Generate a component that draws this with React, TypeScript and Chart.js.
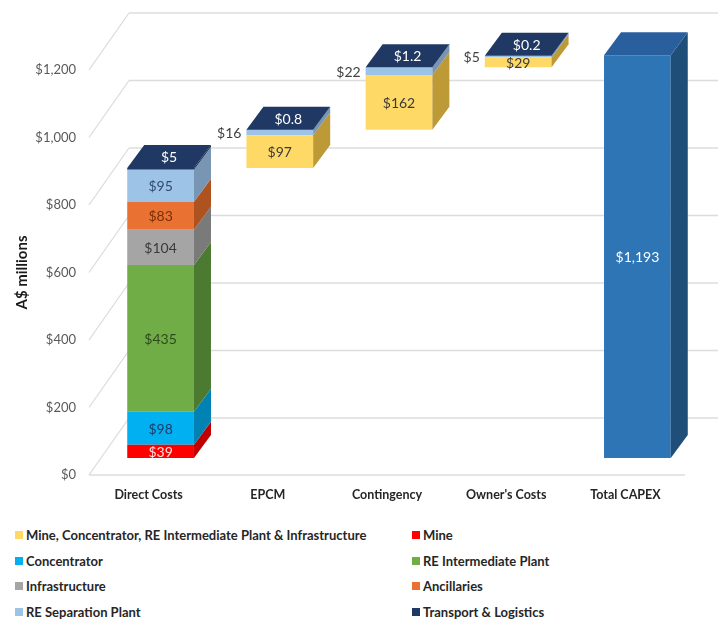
import React, { useEffect, useRef } from 'react';
import { Chart, registerables } from 'chart.js';

Chart.register(...registerables);

// ---------- data ----------
const categories = ['Direct Costs', 'EPCM', 'Contingency', "Owner's Costs", 'Total CAPEX'];
const mineConcReInfra = [0, 97, 162, 29, 0];
const mine = [39, 0, 0, 0, 0];
const concentrator = [98, 0, 0, 0, 0];
const reIntermediatePlant = [435, 0, 0, 0, 0];
const infrastructure = [104, 0, 0, 0, 0];
const ancillaries = [83, 0, 0, 0, 0];
const reSeparationPlant = [95, 16, 22, 5, 0];
const transportLogistics = [5, 0.8, 1.2, 0.2, 0];
const totalCapex = [0, 0, 0, 0, 1193];
const yMin = 0;
const yMax = 1200;
const yStep = 200;

// ---------- series meta ----------
const seriesNames = [
  'Mine, Concentrator, RE Intermediate Plant & Infrastructure',
  'Mine',
  'Concentrator',
  'RE Intermediate Plant',
  'Infrastructure',
  'Ancillaries',
  'RE Separation Plant',
  'Transport & Logistics',
];
const seriesValues = [
  mineConcReInfra,
  mine,
  concentrator,
  reIntermediatePlant,
  infrastructure,
  ancillaries,
  reSeparationPlant,
  transportLogistics,
];
const frontColors = ['#FFD966', '#FF0000', '#00B0F0', '#70AD47', '#A5A5A5', '#E97132', '#9DC3E6', '#203864'];
const sideColors = ['#BD9A36', '#C00000', '#0082B4', '#4C7A30', '#7A7A7A', '#AE531F', '#7896B3', '#17294A'];
const topColors = ['#F2CC55', '#E00000', '#009AD6', '#62983D', '#959595', '#D2652A', '#8DB2D6', '#203864'];
const labelColors = ['#3A3A3A', '#FFE4E4', '#1F3864', '#2D4A1B', '#3A3A3A', '#7A2E05', '#2F4A75', '#FFFFFF'];
const totalFront = '#2E75B6';
const totalSide = '#1F4E79';
const totalTop = '#285F9C';
// legend order: rows of two
const legendOrder = [0, 1, 2, 3, 4, 5, 6, 7];

// ---------- geometry of the pseudo 3D ----------
const BAR_DX = 12; // bar front plane offset from axis front plane
const BAR_DY = -17;
const DEPTH_DX = 17; // bar depth
const DEPTH_DY = -23;
const WALL_DX = 40; // back wall offset
const WALL_DY = -57;

const isTotalCol = (i: number) => totalCapex[i] > 0;

const waterfallBase: (number | null)[] = (() => {
  const res: (number | null)[] = [];
  let run = 0;
  for (let i = 0; i < categories.length; i++) {
    if (isTotalCol(i) || i === 0) res.push(null);
    else res.push(run);
    if (!isTotalCol(i)) {
      for (const s of seriesValues) run += s[i];
    }
  }
  return res;
})();

const nz = (arr: number[]) => arr.map((v) => (v ? v : null));

const fmt = (v: number) => '$' + v.toLocaleString('en-US');

function poly(ctx: CanvasRenderingContext2D, pts: number[][], color: string) {
  ctx.beginPath();
  ctx.moveTo(pts[0][0], pts[0][1]);
  for (let i = 1; i < pts.length; i++) ctx.lineTo(pts[i][0], pts[i][1]);
  ctx.closePath();
  ctx.fillStyle = color;
  ctx.fill();
}

const depthPlugin = {
  id: 'depth3d',
  beforeDatasetsDraw(chart: any) {
    const ctx: CanvasRenderingContext2D = chart.ctx;
    const { left, right, bottom } = chart.chartArea;
    const ys = chart.scales.y;
    ctx.save();
    ctx.strokeStyle = '#DCDCDC';
    ctx.lineWidth = 1.3;
    for (let v = yMin; v <= yMax; v += yStep) {
      const y = ys.getPixelForValue(v);
      // back wall line
      ctx.beginPath();
      ctx.moveTo(left + WALL_DX, y + WALL_DY);
      ctx.lineTo(chart.width, y + WALL_DY);
      ctx.stroke();
      // side wall diagonal
      ctx.beginPath();
      ctx.moveTo(left, y);
      ctx.lineTo(left + WALL_DX, y + WALL_DY);
      ctx.stroke();
    }
    // floor front edge
    ctx.beginPath();
    ctx.moveTo(left, bottom);
    ctx.lineTo(right, bottom);
    ctx.stroke();
    ctx.restore();
    ctx.save();
    ctx.translate(BAR_DX, BAR_DY);
  },
  afterDatasetsDraw(chart: any) {
    const ctx: CanvasRenderingContext2D = chart.ctx;
    const nSeries = seriesValues.length;
    // dataset index mapping: 0 = base, 1..nSeries = series, nSeries+1 = total
    const topInfo: any[] = [];
    for (let d = 1; d <= nSeries + 1; d++) {
      const meta = chart.getDatasetMeta(d);
      meta.data.forEach((el: any, i: number) => {
        const raw = chart.data.datasets[d].data[i];
        if (raw == null) return;
        const p = el.getProps(['x', 'y', 'base', 'width'], true);
        const xL = p.x - p.width / 2;
        const xR = p.x + p.width / 2;
        const yT = Math.min(p.y, p.base);
        const yB = Math.max(p.y, p.base);
        const side = d === nSeries + 1 ? totalSide : sideColors[d - 1];
        poly(ctx, [[xR, yT], [xR + DEPTH_DX, yT + DEPTH_DY], [xR + DEPTH_DX, yB + DEPTH_DY], [xR, yB]], side);
        topInfo[i] = { d, xL, xR, yT };
      });
    }
    topInfo.forEach((t) => {
      if (!t) return;
      const col = t.d === nSeries + 1 ? totalTop : topColors[t.d - 1];
      poly(ctx, [[t.xL, t.yT], [t.xL + DEPTH_DX, t.yT + DEPTH_DY], [t.xR + DEPTH_DX, t.yT + DEPTH_DY], [t.xR, t.yT]], col);
    });
    // labels
    ctx.font = '14px Lato';
    ctx.textBaseline = 'middle';
    for (let d = 1; d <= nSeries + 1; d++) {
      const meta = chart.getDatasetMeta(d);
      meta.data.forEach((el: any, i: number) => {
        const raw = chart.data.datasets[d].data[i];
        if (raw == null) return;
        const p = el.getProps(['x', 'y', 'base', 'width'], true);
        const xL = p.x - p.width / 2;
        const yT = Math.min(p.y, p.base);
        const yB = Math.max(p.y, p.base);
        const h = yB - yT;
        const text = fmt(raw);
        const isTop = topInfo[i] && topInfo[i].d === d;
        if (h >= 8) {
          ctx.textAlign = 'center';
          ctx.fillStyle = d === nSeries + 1 ? '#FFFFFF' : labelColors[d - 1];
          ctx.fillText(text, p.x, (yT + yB) / 2 + 1);
        } else if (isTop) {
          ctx.textAlign = 'center';
          ctx.fillStyle = labelColors[d - 1];
          ctx.fillText(text, p.x + DEPTH_DX / 2, yT + DEPTH_DY / 2 + 1);
        } else {
          ctx.textAlign = 'right';
          ctx.fillStyle = '#404040';
          ctx.fillText(text, xL - 5, (yT + yB) / 2 + 1);
        }
      });
    }
    ctx.restore();
  },
};

export default function App() {
  const ref = useRef<HTMLCanvasElement | null>(null);

  useEffect(() => {
    if (!ref.current) return;
    const datasets: any[] = [
      {
        label: 'base',
        data: waterfallBase,
        backgroundColor: 'rgba(0,0,0,0)',
        stack: 's',
      },
      ...seriesNames.map((name, k) => ({
        label: name,
        data: nz(seriesValues[k]),
        backgroundColor: frontColors[k],
        stack: 's',
      })),
      {
        label: 'Total CAPEX',
        data: nz(totalCapex),
        backgroundColor: totalFront,
        stack: 's',
      },
    ];
    const chart = new Chart(ref.current, {
      type: 'bar',
      data: { labels: categories, datasets },
      options: {
        responsive: false,
        animation: false,
        devicePixelRatio: 1,
        layout: { padding: { top: 70, left: 0, right: 33, bottom: 0 } },
        datasets: {
          bar: {
            categoryPercentage: 0.56,
            barPercentage: 1,
            borderWidth: 0,
            borderSkipped: false,
          },
        },
        plugins: {
          legend: { display: false },
          tooltip: { enabled: false },
        },
        scales: {
          x: {
            stacked: true,
            grid: { display: false, drawTicks: false },
            border: { display: false },
            ticks: {
              font: { family: 'Lato', size: 12.5, weight: 'bold' },
              color: '#262626',
              padding: 12,
              maxRotation: 0,
              autoSkip: false,
            },
            afterFit: (s: any) => {
              s.height = 40;
            },
          },
          y: {
            stacked: true,
            min: yMin,
            max: yMax,
            grid: { display: false, drawTicks: false },
            border: { display: false },
            ticks: {
              stepSize: yStep,
              font: { family: 'Lato', size: 13 },
              color: '#595959',
              padding: 13,
              callback: (v: any) => fmt(Number(v)),
            },
            title: {
              display: true,
              text: 'A$ millions',
              font: { family: 'Lato', size: 15, weight: 'bold' },
              color: '#1A1A1A',
              padding: { top: 13, bottom: 0 },
            },
            afterFit: (s: any) => {
              s.width = 89;
            },
          },
        },
      },
      plugins: [depthPlugin],
    } as any);
    return () => chart.destroy();
  }, []);

  const rows: number[][] = [];
  for (let i = 0; i < legendOrder.length; i += 2) rows.push([legendOrder[i], legendOrder[i + 1]]);

  return (
    <div style={{ position: 'absolute', left: 0, top: 0, width: 718, height: 622, background: '#fff' }}>
      <canvas ref={ref} width={718} height={515} style={{ position: 'absolute', left: 0, top: 0, width: 718, height: 515 }} />
      {rows.map((pair, r) =>
        pair.map((k, c) => (
          <div
            key={k}
            style={{
              position: 'absolute',
              left: c === 0 ? 15 : 412,
              top: 526 + r * 25.7,
              height: 18,
              display: 'flex',
              alignItems: 'center',
              fontFamily: 'Lato',
              fontWeight: 'bold',
              fontSize: 13,
              color: '#262626',
              whiteSpace: 'nowrap',
            }}
          >
            <span style={{ display: 'inline-block', width: 8, height: 8, background: frontColors[k], marginRight: 3 }} />
            {seriesNames[k]}
          </div>
        ))
      )}
    </div>
  );
}
